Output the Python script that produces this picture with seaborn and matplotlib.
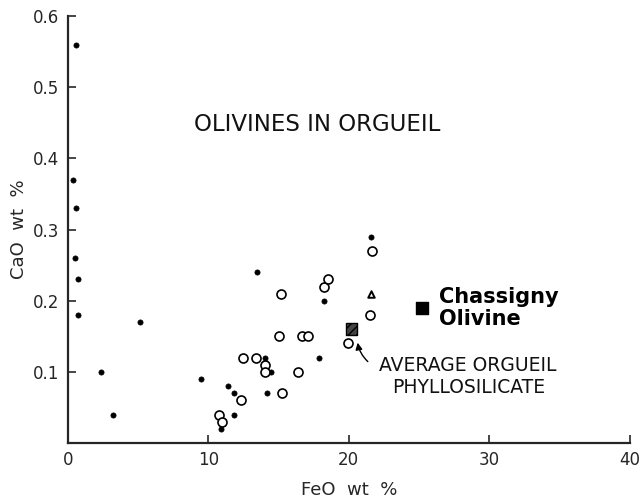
import pandas as pd
import matplotlib.pyplot as plt
import seaborn as sns

# filled dots (olivines, one group)
solid_feo = [0.6, 0.4, 0.55, 0.5, 0.75, 0.75, 2.35, 3.2, 5.15, 9.5, 10.9, 11.4, 11.8, 11.8,
             13.5, 14.05, 14.2, 14.45, 17.85, 18.2, 21.6]
solid_cao = [0.56, 0.37, 0.33, 0.26, 0.23, 0.18, 0.10, 0.04, 0.17, 0.09, 0.02, 0.08, 0.07, 0.04,
             0.24, 0.12, 0.07, 0.10, 0.12, 0.20, 0.29]

# open circles
open_feo = [10.75, 11.0, 12.3, 12.45, 13.4, 14.0, 14.0, 15.0, 15.2, 15.25, 16.35, 16.7, 17.1,
            18.25, 18.5, 19.95, 21.5, 21.65]
open_cao = [0.04, 0.03, 0.06, 0.12, 0.12, 0.11, 0.10, 0.15, 0.21, 0.07, 0.10, 0.15, 0.15,
            0.22, 0.23, 0.14, 0.18, 0.27]

# small triangle
tri_feo = [21.6]
tri_cao = [0.21]

# average Orgueil phyllosilicate (hatched square)
phyl_feo = [20.2]
phyl_cao = [0.16]

# Chassigny olivine
chas_feo = [25.2]
chas_cao = [0.19]

df_solid = pd.DataFrame({"FeO": solid_feo, "CaO": solid_cao})
df_open = pd.DataFrame({"FeO": open_feo, "CaO": open_cao})

sns.set_style("ticks")
plt.rcParams['font.family'] = ['DejaVu Sans']

fig = plt.figure(figsize=(6.4, 5.03), dpi=100)
ax = fig.add_axes([0.106, 0.119, 0.878, 0.849])

sns.scatterplot(data=df_solid, x="FeO", y="CaO", ax=ax, color="black", s=14,
                edgecolor="black", linewidth=0.5, zorder=3)
sns.scatterplot(data=df_open, x="FeO", y="CaO", ax=ax, facecolor="white", s=42,
                edgecolor="black", linewidth=1.2, zorder=3)
sns.scatterplot(x=tri_feo, y=tri_cao, ax=ax, marker="^", facecolor="white", s=22,
                edgecolor="black", linewidth=1.4, zorder=3)
ax.scatter(phyl_feo, phyl_cao, marker="s", s=70, facecolor="#444444",
           edgecolor="black", hatch="////", linewidth=1.0, zorder=4)
ax.scatter(chas_feo, chas_cao, marker="s", s=70, color="black", zorder=4)

ax.annotate("", xy=(20.6, 0.145), xytext=(21.5, 0.112),
            arrowprops=dict(arrowstyle="-|>", color="black", lw=1.0,
                            connectionstyle="arc3,rad=-0.2"))

ax.text(9.0, 0.447, "OLIVINES IN ORGUEIL", fontsize=16.5, ha="left", va="center",
        color="#111111")
ax.text(28.5, 0.093, "AVERAGE ORGUEIL\nPHYLLOSILICATE", fontsize=13.5, ha="center",
        va="center", linespacing=1.2, color="#111111")
ax.text(26.4, 0.19, "Chassigny\nOlivine", fontsize=15, fontweight="bold", ha="left",
        va="center", linespacing=1.15, color="black")

ax.set_xlim(0, 40)
ax.set_ylim(0, 0.6)
ax.set_xticks([0, 10, 20, 30, 40])
ax.set_yticks([0.1, 0.2, 0.3, 0.4, 0.5, 0.6])
ax.set_yticklabels(["0.1", "0.2", "0.3", "0.4", "0.5", "0.6"])
ax.tick_params(direction="in", length=6, width=1.2, labelsize=12, pad=6)
for side in ["top", "right"]:
    ax.spines[side].set_visible(False)
for side in ["left", "bottom"]:
    ax.spines[side].set_linewidth(1.6)

ax.set_xlabel("FeO  wt  %", fontsize=13, labelpad=8)
ax.set_ylabel("CaO  wt  %", fontsize=13, labelpad=4)

fig.savefig("out.png", dpi=100)
plt.close(fig)
